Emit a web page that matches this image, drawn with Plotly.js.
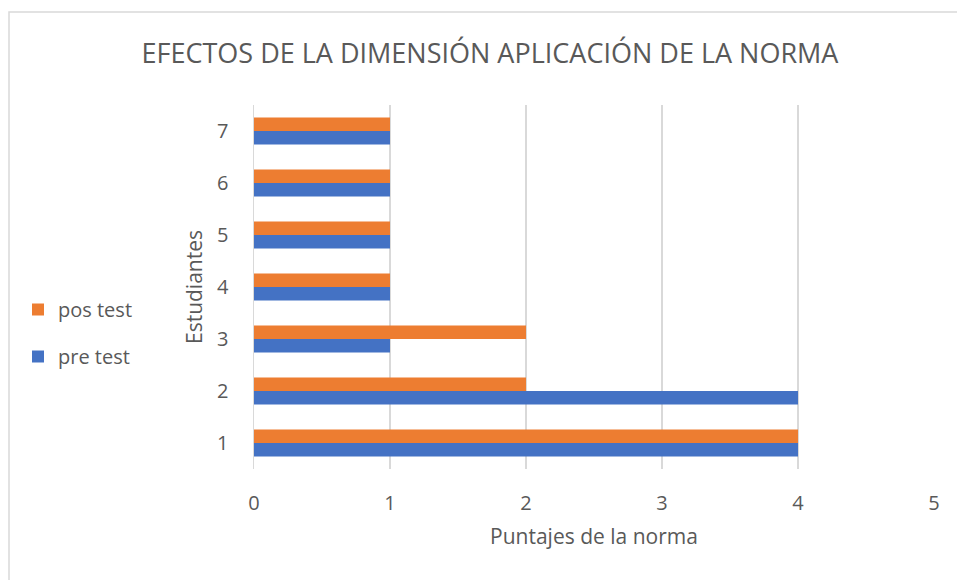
<!DOCTYPE html>
<html>
<head>
<meta charset="utf-8">
<script src="https://cdn.plot.ly/plotly-3.0.1.min.js"></script>
<style>html,body{margin:0;padding:0;background:#fff;}#chart{width:957px;height:580px;}</style>
</head>
<body>
<div id="chart"></div>
<script>
const categories = ['1','2','3','4','5','6','7'];
const preTest = [4, 4, 1, 1, 1, 1, 1];
const posTest = [4, 2, 2, 1, 1, 1, 1];
const xTicks = [0, 1, 2, 3, 4, 5];

const font = "Open Sans, Liberation Sans, sans-serif";
const grey = '#595959';

const traces = [
  {type: 'bar', orientation: 'h', name: 'pre test', y: categories, x: preTest,
   marker: {color: '#4472C4'}, legendgroup: 'a', legendrank: 2},
  {type: 'bar', orientation: 'h', name: 'pos test', y: categories, x: posTest,
   marker: {color: '#ED7D31'}, legendgroup: 'b', legendrank: 1}
];

const L = 254, R = 23, T = 105, B = 111;
const W = 957 - L - R, H = 580 - T - B;
const px = v => (v - L) / W;
const py = v => (580 - B - v) / H;

const layout = {
  width: 957, height: 580,
  margin: {l: L, r: R, t: T, b: B, pad: 0},
  paper_bgcolor: '#ffffff', plot_bgcolor: '#ffffff',
  font: {family: font, color: grey, size: 20},
  barmode: 'group', bargap: 0.48, bargroupgap: 0,
  title: {text: 'EFECTOS DE LA DIMENSIÓN APLICACIÓN DE LA NORMA',
          font: {family: font, size: 27, color: grey},
          x: 0.512, xanchor: 'center', y: 1 - 54 / 580, yanchor: 'middle'},
  xaxis: {range: [0, 5], tickvals: xTicks, ticktext: xTicks.map(String),
          showgrid: true, gridcolor: '#d9d9d9', gridwidth: 1.5, zeroline: false,
          showline: false, ticks: '', ticklabelstandoff: 20,
          tickfont: {size: 20, color: grey, family: font},
          title: {text: 'Puntajes de la norma', font: {size: 21, color: grey, family: font}, standoff: 14}},
  yaxis: {type: 'category', showgrid: false, zeroline: false,
          showline: true, linecolor: '#d9d9d9', linewidth: 1.5, ticks: '',
          ticklabelstandoff: 20,
          tickfont: {size: 20, color: grey, family: font},
          title: {text: 'Estudiantes', font: {size: 21, color: grey, family: font}, standoff: 8}},
  legend: {x: px(18), xanchor: 'left', y: py(290), yanchor: 'top',
           traceorder: 'grouped', tracegroupgap: 18,
           font: {size: 20, color: grey, family: font},
           itemwidth: 30, bgcolor: 'rgba(0,0,0,0)'},
  showlegend: true,
  shapes: [{type: 'rect', xref: 'paper', yref: 'paper',
            x0: px(9), x1: px(962), y0: py(585), y1: py(12),
            line: {color: '#d9d9d9', width: 1.5}, fillcolor: 'rgba(0,0,0,0)', layer: 'below'}]
};

Plotly.newPlot('chart', traces, layout, {displayModeBar: false, staticPlot: true});
</script>
</body>
</html>
